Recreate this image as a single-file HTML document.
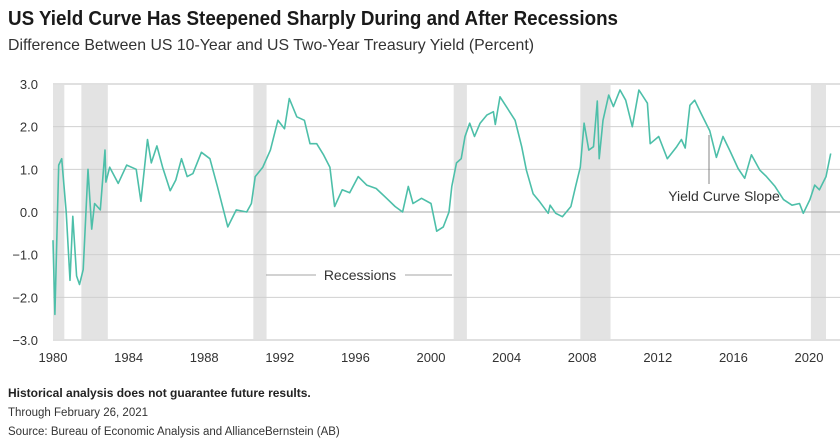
<!DOCTYPE html>
<html><head><meta charset="utf-8"><style>
body{margin:0;background:#fff;}
svg{display:block;font-family:"Liberation Sans",sans-serif;}
</style></head><body>
<svg id="c" width="840" height="439" viewBox="0 0 840 439">
<text x="8" y="25" font-size="20" font-weight="bold" fill="#1a1a1a" textLength="610" lengthAdjust="spacingAndGlyphs">US Yield Curve Has Steepened Sharply During and After Recessions</text>
<text x="8" y="50" font-size="16" fill="#333" textLength="526" lengthAdjust="spacingAndGlyphs">Difference Between US 10-Year and US Two-Year Treasury Yield (Percent)</text>
<g id="rec"></g><g id="grid"></g><g id="axes"></g>
<path id="line" fill="none" stroke="#4dbfa9" stroke-width="1.6" stroke-linejoin="round"/>
<g>
<line x1="266" y1="275" x2="316" y2="275" stroke="#888" stroke-width="0.8"/>
<line x1="405" y1="275" x2="452" y2="275" stroke="#888" stroke-width="0.8"/>
<text x="360" y="280" font-size="14" fill="#333" text-anchor="middle">Recessions</text>
</g>
<g>
<line x1="709" y1="135" x2="709" y2="184" stroke="#666" stroke-width="0.8"/>
<text x="724" y="201" font-size="14" fill="#333" text-anchor="middle">Yield Curve Slope</text>
</g>
<text x="8" y="397" font-size="12" font-weight="bold" fill="#222">Historical analysis does not guarantee future results.</text>
<text x="8" y="416" font-size="11.5" fill="#333">Through February 26, 2021</text>
<text x="8" y="435" font-size="11.5" fill="#333">Source: Bureau of Economic Analysis and AllianceBernstein (AB)</text>
</svg>
<script>
const years=[1980.0,1980.1,1980.3,1980.46,1980.7,1980.9,1981.05,1981.25,1981.4,1981.6,1981.85,1982.05,1982.2,1982.5,1982.75,1982.8,1983.0,1983.45,1983.9,1984.4,1984.65,1985.0,1985.2,1985.5,1985.8,1986.2,1986.5,1986.8,1987.1,1987.4,1987.85,1988.3,1988.7,1989.25,1989.7,1990.25,1990.5,1990.7,1991.1,1991.5,1991.9,1992.25,1992.5,1992.9,1993.3,1993.6,1993.95,1994.3,1994.65,1994.9,1995.3,1995.7,1996.15,1996.6,1997.1,1997.65,1998.1,1998.5,1998.8,1999.05,1999.5,2000.0,2000.3,2000.65,2000.95,2001.1,2001.35,2001.6,2001.8,2002.05,2002.3,2002.6,2002.95,2003.3,2003.4,2003.65,2004.1,2004.45,2004.8,2005.05,2005.4,2005.75,2006.2,2006.3,2006.6,2006.95,2007.4,2007.65,2007.9,2008.1,2008.35,2008.6,2008.8,2008.9,2009.1,2009.4,2009.65,2010.0,2010.3,2010.65,2011.0,2011.45,2011.6,2012.05,2012.5,2013.0,2013.25,2013.45,2013.7,2013.95,2014.3,2014.75,2015.1,2015.45,2015.8,2016.25,2016.6,2016.95,2017.4,2017.75,2018.2,2018.65,2019.1,2019.5,2019.7,2020.05,2020.3,2020.55,2020.9,2021.15];
const spread=[-0.66,-2.4,1.1,1.25,0,-1.6,-0.1,-1.5,-1.7,-1.35,1.0,-0.4,0.2,0.05,1.45,0.7,1.05,0.67,1.1,1.0,0.25,1.7,1.15,1.55,1.05,0.5,0.75,1.25,0.83,0.9,1.4,1.25,0.6,-0.35,0.05,0,0.2,0.83,1.05,1.45,2.15,1.95,2.66,2.23,2.15,1.6,1.6,1.35,1.05,0.13,0.52,0.45,0.83,0.63,0.55,0.32,0.13,0,0.6,0.2,0.32,0.2,-0.45,-0.35,0,0.6,1.15,1.25,1.77,2.08,1.77,2.08,2.27,2.35,2.05,2.7,2.39,2.15,1.53,0.98,0.43,0.24,-0.03,0.16,-0.03,-0.11,0.13,0.6,1.05,2.08,1.45,1.53,2.6,1.25,2.15,2.74,2.47,2.86,2.62,2.0,2.86,2.55,1.6,1.77,1.25,1.53,1.7,1.5,2.5,2.62,2.3,1.9,1.28,1.77,1.45,1.02,0.79,1.34,0.98,0.83,0.6,0.29,0.16,0.2,-0.03,0.29,0.63,0.52,0.83,1.37];
const recStart=[1980.0,1981.5,1990.6,2001.2,2007.9,2020.1];
const recEnd=[1980.6,1982.9,1991.3,2001.9,2009.5,2020.9];
const yTicks=[3,2,1,0,-1,-2,-3];
const xTicks=[1980,1984,1988,1992,1996,2000,2004,2008,2012,2016,2020];
const NS="http://www.w3.org/2000/svg";
const X=v=>53+(v-1980)*18.9;
const Y=v=>212-v*42.67;
function mk(tag,attrs,parent,txt){const e=document.createElementNS(NS,tag);for(const k in attrs)e.setAttribute(k,attrs[k]);if(txt!==undefined)e.textContent=txt;document.getElementById(parent).appendChild(e);return e;}
recStart.forEach((s,i)=>{
 const r=mk('rect',{x:X(s),y:Y(3),width:X(recEnd[i])-X(s),height:Y(-3)-Y(3),fill:'#e3e3e3'},'rec');
 
 
});
yTicks.forEach(t=>{
 const l=mk('line',{x1:53,x2:840,y1:Y(t),y2:Y(t),stroke:t===0?'#aaa':(t===-3||t===3?'#e0e0e0':'#d0d0d0'),'stroke-width':(t===-3||t===3)?2:1},'grid');
 
 
 const tx=mk('text',{x:38,y:Y(t)+5,'font-size':13,fill:'#333','text-anchor':'end'},'axes',(t<0?'\u2212':'')+Math.abs(t).toFixed(1));
 
 
});
xTicks.forEach(t=>{
 const tx=mk('text',{x:X(t),y:362,'font-size':13,fill:'#333','text-anchor':'middle'},'axes',String(t));
 
 
});
document.getElementById('line').setAttribute('d',years.map((y,i)=>(i?'L':'M')+X(y).toFixed(1)+','+Y(spread[i]).toFixed(1)).join(''));
</script>
</body></html>
